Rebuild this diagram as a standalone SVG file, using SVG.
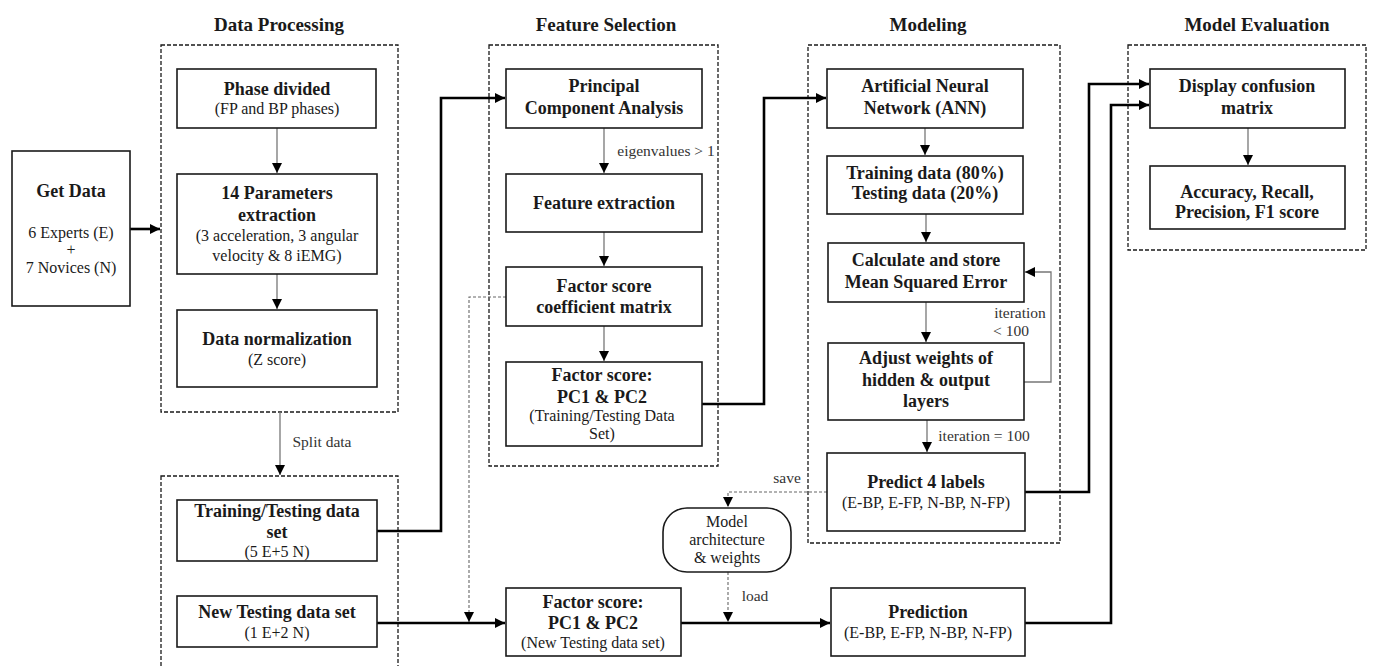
<svg xmlns="http://www.w3.org/2000/svg" width="1375" height="666" viewBox="0 0 1375 666">
<style>
text{font-family:"Liberation Serif","DejaVu Serif",serif;fill:#1a1a1a;text-anchor:middle}
.t{font-size:19px;font-weight:bold}
.b{font-size:18px;font-weight:bold}
.s{font-size:16px}
.l{font-size:15.5px;fill:#333}
.box{fill:#fff;stroke:#1a1a1a;stroke-width:1.6}
.grp{fill:none;stroke:#1a1a1a;stroke-width:1.3;stroke-dasharray:4 2}
.thin{fill:none;stroke:#777;stroke-width:1.3}
.thick{fill:none;stroke:#000;stroke-width:2.6}
.dash{fill:none;stroke:#666;stroke-width:1.1;stroke-dasharray:3 2}
</style>
<defs>
<marker id="ah" viewBox="0 0 10 10" refX="10" refY="5" markerWidth="10" markerHeight="10" markerUnits="userSpaceOnUse" orient="auto"><path d="M0,0L10,5L0,10z" fill="#000"/></marker>
<marker id="ahk" viewBox="0 0 10 10" refX="10" refY="5" markerWidth="12" markerHeight="10" markerUnits="userSpaceOnUse" orient="auto"><path d="M0,0L10,5L0,10z" fill="#000"/></marker>
</defs>
<rect width="1375" height="666" fill="#fff"/>

<g id="titles">
<text class="t" x="279" y="31">Data Processing</text>
<text class="t" x="606" y="31">Feature Selection</text>
<text class="t" x="928" y="31">Modeling</text>
<text class="t" x="1257" y="31">Model Evaluation</text>
</g>

<g id="containers">
<rect class="grp" x="161" y="45" width="237" height="367"/>
<rect class="grp" x="161" y="476" width="237" height="200"/>
<rect class="grp" x="489" y="45" width="229" height="421"/>
<rect class="grp" x="808" y="45" width="252" height="498"/>
<rect class="grp" x="1128" y="45" width="238" height="205"/>
</g>

<g id="connectors">
<line class="thick" x1="130" y1="229" x2="160" y2="229" marker-end="url(#ahk)"/>
<line class="thin" x1="277" y1="128" x2="277" y2="173" marker-end="url(#ah)"/>
<line class="thin" x1="277" y1="274" x2="277" y2="309" marker-end="url(#ah)"/>
<line class="thin" x1="280" y1="412" x2="280" y2="475" marker-end="url(#ah)"/>
<polyline class="thick" points="377,531 441,531 441,98 505,98" marker-end="url(#ahk)"/>
<line class="thin" x1="604" y1="128" x2="604" y2="173" marker-end="url(#ah)"/>
<line class="thin" x1="604" y1="232" x2="604" y2="266" marker-end="url(#ah)"/>
<line class="thin" x1="604" y1="326" x2="604" y2="361" marker-end="url(#ah)"/>
<polyline class="thick" points="702,404 764,404 764,98 826,98" marker-end="url(#ahk)"/>
<polyline class="dash" points="506,297 469,297 469,622" marker-end="url(#ah)"/>
<line class="thick" x1="377" y1="623" x2="505" y2="623" marker-end="url(#ahk)"/>
<line class="thick" x1="681" y1="623" x2="830" y2="623" marker-end="url(#ahk)"/>
<polyline class="dash" points="827,492 728,492 728,507" marker-end="url(#ah)"/>
<line class="dash" x1="728" y1="572" x2="728" y2="622" marker-end="url(#ah)"/>
<line class="thin" x1="925" y1="128" x2="925" y2="155" marker-end="url(#ah)"/>
<line class="thin" x1="926" y1="214" x2="926" y2="242" marker-end="url(#ah)"/>
<line class="thin" x1="926" y1="302" x2="926" y2="342" marker-end="url(#ah)"/>
<polyline class="thin" points="1024,382 1051,382 1051,272 1025,272" marker-end="url(#ah)"/>
<line class="thin" x1="927" y1="420" x2="927" y2="452" marker-end="url(#ah)"/>
<polyline class="thick" points="1025,492 1089,492 1089,84 1149,84" marker-end="url(#ahk)"/>
<polyline class="thick" points="1025,623 1111,623 1111,105 1149,105" marker-end="url(#ahk)"/>
<line class="thin" x1="1248" y1="128" x2="1248" y2="165" marker-end="url(#ah)"/>
</g>

<g id="labels">
<text class="l" x="322" y="447">Split data</text>
<text class="l" x="666" y="156">eigenvalues &gt; 1</text>
<text class="l" x="787" y="483">save</text>
<text class="l" x="755" y="601">load</text>
<text class="l" x="1020" y="318">iteration</text>
<text class="l" x="1011" y="336">&lt;  100</text>
<text class="l" x="984" y="441">iteration = 100</text>
</g>

<g id="get-data">
<rect class="box" x="12" y="151" width="118" height="155"/>
<text class="b" x="71" y="197">Get Data</text>
<text class="s" x="71" y="238">6 Experts (E)</text>
<text class="s" x="71" y="255">+</text>
<text class="s" x="71" y="273">7 Novices (N)</text>
</g>
<g id="phase-divided">
<rect class="box" x="177" y="69" width="199" height="59"/>
<text class="b" x="277" y="95">Phase divided</text>
<text class="s" x="277" y="114">(FP and BP phases)</text>
</g>
<g id="parameters">
<rect class="box" x="177" y="174" width="200" height="100"/>
<text class="b" x="277" y="199">14 Parameters</text>
<text class="b" x="277" y="221">extraction</text>
<text class="s" x="277" y="241">(3 acceleration, 3 angular</text>
<text class="s" x="277" y="261">velocity &amp; 8 iEMG)</text>
</g>
<g id="normalization">
<rect class="box" x="177" y="310" width="200" height="77"/>
<text class="b" x="277" y="345">Data normalization</text>
<text class="s" x="277" y="365">(Z score)</text>
</g>
<g id="training-set">
<rect class="box" x="177" y="500" width="200" height="61"/>
<text class="b" x="277" y="517">Training/Testing  data</text>
<text class="b" x="277" y="538">set</text>
<text class="s" x="277" y="557">(5 E+5 N)</text>
</g>
<g id="new-testing-set">
<rect class="box" x="177" y="596" width="200" height="51"/>
<text class="b" x="277" y="618">New Testing  data set</text>
<text class="s" x="277" y="638">(1 E+2 N)</text>
</g>

<g id="pca">
<rect class="box" x="506" y="69" width="196" height="59"/>
<text class="b" x="604" y="92">Principal</text>
<text class="b" x="604" y="114">Component Analysis</text>
</g>
<g id="feature-extraction">
<rect class="box" x="506" y="174" width="196" height="58"/>
<text class="b" x="604" y="209">Feature extraction</text>
</g>
<g id="coef-matrix">
<rect class="box" x="506" y="267" width="196" height="59"/>
<text class="b" x="604" y="292">Factor score</text>
<text class="b" x="604" y="313">coefficient  matrix</text>
</g>
<g id="factor-train">
<rect class="box" x="506" y="362" width="196" height="84"/>
<text class="b" x="602" y="381">Factor score:</text>
<text class="b" x="602" y="403">PC1 &amp; PC2</text>
<text class="s" x="602" y="421">(Training/Testing Data</text>
<text class="s" x="602" y="439">Set)</text>
</g>
<g id="factor-new">
<rect class="box" x="506" y="588" width="175" height="68"/>
<text class="b" x="593" y="608">Factor score:</text>
<text class="b" x="593" y="629">PC1 &amp; PC2</text>
<text class="s" x="593" y="648">(New Testing data set)</text>
</g>
<g id="model-store">
<rect class="box" x="663" y="508" width="128" height="64" rx="24"/>
<text class="s" x="727" y="527">Model</text>
<text class="s" x="727" y="545">architecture</text>
<text class="s" x="727" y="563">&amp; weights</text>
</g>

<g id="ann">
<rect class="box" x="827" y="69" width="196" height="59"/>
<text class="b" x="925" y="92">Artificial  Neural</text>
<text class="b" x="925" y="114">Network (ANN)</text>
</g>
<g id="split">
<rect class="box" x="827" y="156" width="196" height="58"/>
<text class="b" x="925" y="179">Training data (80%)</text>
<text class="b" x="925" y="199">Testing data (20%)</text>
</g>
<g id="mse">
<rect class="box" x="828" y="243" width="196" height="59"/>
<text class="b" x="926" y="266">Calculate and store</text>
<text class="b" x="926" y="288">Mean Squared Error</text>
</g>
<g id="adjust">
<rect class="box" x="828" y="343" width="196" height="77"/>
<text class="b" x="926" y="364">Adjust  weights  of</text>
<text class="b" x="926" y="386">hidden  &amp; output</text>
<text class="b" x="926" y="407">layers</text>
</g>
<g id="predict">
<rect class="box" x="827" y="453" width="198" height="78"/>
<text class="b" x="926" y="488">Predict  4 labels</text>
<text class="s" x="926" y="508">(E-BP, E-FP, N-BP, N-FP)</text>
</g>
<g id="prediction">
<rect class="box" x="831" y="588" width="194" height="68"/>
<text class="b" x="928" y="618">Prediction</text>
<text class="s" x="928" y="638">(E-BP, E-FP, N-BP, N-FP)</text>
</g>

<g id="confusion">
<rect class="box" x="1150" y="69" width="195" height="59"/>
<text class="b" x="1247" y="92">Display  confusion</text>
<text class="b" x="1247" y="114">matrix</text>
</g>
<g id="metrics">
<rect class="box" x="1150" y="166" width="195" height="63"/>
<text class="b" x="1247" y="198">Accuracy,  Recall,</text>
<text class="b" x="1247" y="218">Precision,  F1 score</text>
</g>
</svg>
